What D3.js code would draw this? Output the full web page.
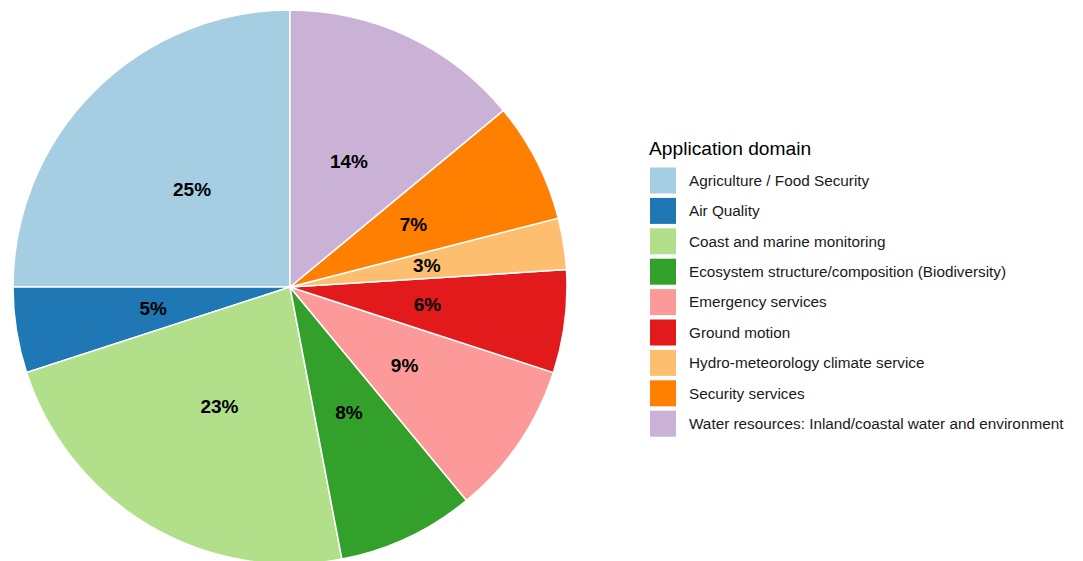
<!DOCTYPE html>
<html>
<head>
<meta charset="utf-8">
<script src="https://cdn.jsdelivr.net/npm/d3@7"></script>
<style>
  html, body { margin: 0; padding: 0; background: #ffffff; }
  svg { display: block; }
</style>
</head>
<body>
<svg id="chart" width="1083" height="561"></svg>
<script>
// Share of projects per application domain (percent)
const domains = [
  "Agriculture / Food Security",
  "Air Quality",
  "Coast and marine monitoring",
  "Ecosystem structure/composition (Biodiversity)",
  "Emergency services",
  "Ground motion",
  "Hydro-meteorology climate service",
  "Security services",
  "Water resources: Inland/coastal water and environment"
];
const shares = [25, 5, 23, 8, 9, 6, 3, 7, 14];
const palette = ["#A6CEE3", "#1F78B4", "#B2DF8A", "#33A02C", "#FB9A99",
                 "#E31A1C", "#FDBF6F", "#FF7F00", "#CAB2D6"];
const legendTitle = "Application domain";

const svg = d3.select("#chart");
const cx = 290, cy = 287, radius = 277;

const color = d3.scaleOrdinal().domain(domains).range(palette);

const rows = domains.map((d, i) => ({ domain: d, value: shares[i] }));

// Slices run counter-clockwise from twelve o'clock
const pie = d3.pie()
  .value(d => d.value)
  .sort(null)
  .startAngle(0)
  .endAngle(-2 * Math.PI);

const arc = d3.arc().innerRadius(0).outerRadius(radius);
const labelArc = d3.arc().innerRadius(radius / 2).outerRadius(radius / 2);

const g = svg.append("g").attr("transform", `translate(${cx},${cy})`);
const arcs = pie(rows);

g.selectAll("path.slice")
  .data(arcs)
  .join("path")
  .attr("class", "slice")
  .attr("d", arc)
  .attr("fill", d => color(d.data.domain))
  .attr("stroke", "#ffffff")
  .attr("stroke-width", 1.5);

g.selectAll("text.pct")
  .data(arcs)
  .join("text")
  .attr("class", "pct")
  .attr("transform", d => `translate(${labelArc.centroid(d)})`)
  .attr("text-anchor", "middle")
  .attr("dy", "0.35em")
  .attr("font-family", "Liberation Sans, Arial, sans-serif")
  .attr("font-weight", "bold")
  .attr("font-size", 19)
  .attr("fill", "#000000")
  .text(d => d.data.value + "%");

// Legend
const legend = svg.append("g").attr("transform", "translate(648,0)");
legend.append("text")
  .attr("x", 1)
  .attr("y", 155)
  .attr("font-family", "Liberation Sans, Arial, sans-serif")
  .attr("font-size", 19.2)
  .attr("fill", "#000000")
  .text(legendTitle);

const step = 30.4;
const items = legend.selectAll("g.item")
  .data(domains)
  .join("g")
  .attr("class", "item")
  .attr("transform", (d, i) => `translate(2,${167.5 + i * step})`);

items.append("rect")
  .attr("width", 26)
  .attr("height", 26)
  .attr("fill", d => color(d));

items.append("text")
  .attr("x", 39)
  .attr("y", 13)
  .attr("dy", "0.35em")
  .attr("font-family", "Liberation Sans, Arial, sans-serif")
  .attr("font-size", 15.3)
  .attr("fill", "#1a1a1a")
  .text(d => d);
</script>
</body>
</html>
